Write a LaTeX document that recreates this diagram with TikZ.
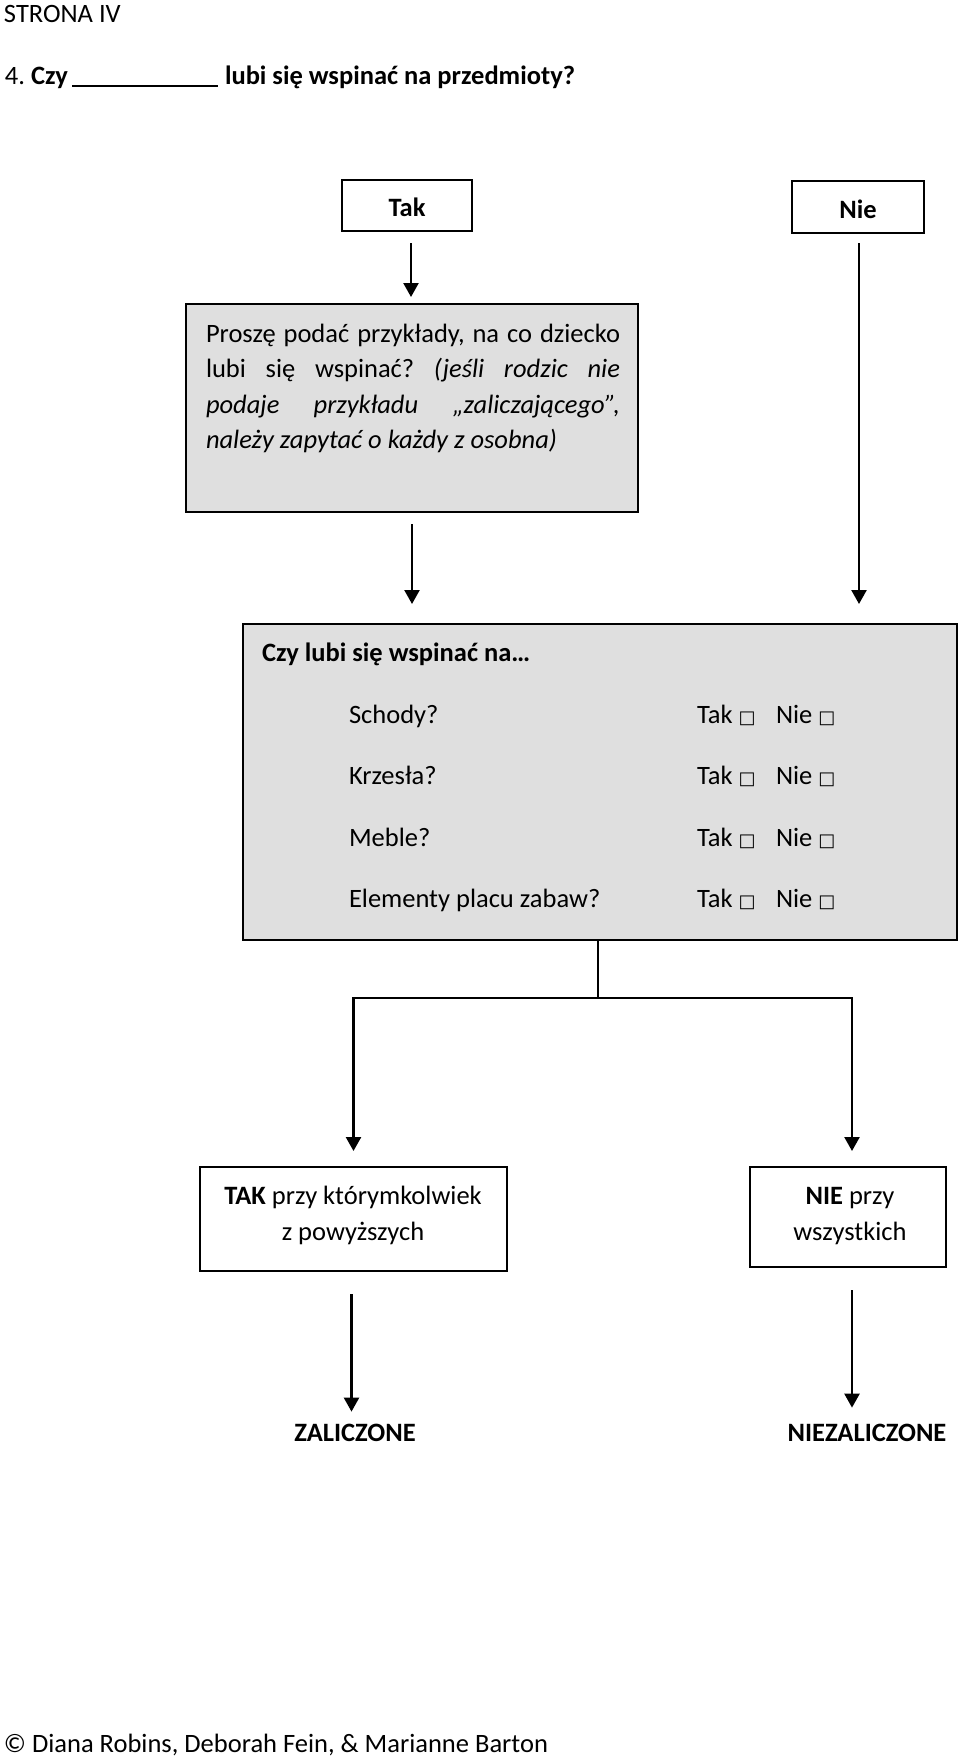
\documentclass[tikz,border=0pt]{standalone}
\usepackage{fontspec}
\setmainfont{Carlito}
\newfontfamily\symf{DejaVu Sans}
\usetikzlibrary{arrows.meta,calc}
\definecolor{boxgrey}{RGB}{223,223,223}
\newcommand{\cbx}{{\symf\fontsize{18}{18}\selectfont □}}
\frenchspacing
\begin{document}
\begin{tikzpicture}[x=1pt,y=-1pt,
  every node/.style={inner sep=0pt,outer sep=0pt,font=\fontsize{26.5}{32}\selectfont},
  box/.style={draw,line width=2pt,anchor=north west},
  gbox/.style={box,fill=boxgrey},
  arr/.style={line width=2.4pt,-{Triangle[width=15pt,length=14pt]}},
  ln/.style={line width=2.4pt,line join=miter}]
\useasboundingbox (0,0) rectangle (960,1762);
% header
\node[anchor=base west] (strona) at (4,22) {STRONA IV};
\node[anchor=base west] (q1) at (5,84) {4. \textbf{Czy}};
\coordinate (ul1) at (72,86);
\coordinate (ul2) at (218,86);
\draw[line width=2pt] (ul1) -- (ul2);
\node[anchor=base west] (q2) at (225,84) {\textbf{lubi się wspinać na przedmioty?}};
% top boxes
\node[box,minimum width=130pt,minimum height=51pt] (tak) at (342,180) {};
\node (takt) at ($(tak.center)+(0,2)$) {\textbf{Tak}};
\node[box,minimum width=132pt,minimum height=52pt] (nie) at (792,181) {};
\node (niet) at ($(nie.center)+(0,2)$) {\textbf{Nie}};
% grey box 1
\node[gbox,minimum width=452pt,minimum height=208pt] (box1) at (186,304) {};
\node[anchor=base west] (box1t) at (206,342) {\parbox[t]{414pt}{\fontsize{26.5}{35.5}\selectfont\hyphenpenalty=10000
Proszę podać przykłady, na co dziecko\linebreak
lubi się wspinać? \textit{(jeśli rodzic nie\linebreak
podaje przykładu „zaliczającego”,\linebreak
należy zapytać o każdy z osobna)}}};
% grey box 2
\node[gbox,minimum width=714pt,minimum height=316pt] (box2) at (243,624) {};
\node[anchor=base west] (hdr) at (262,661) {\textbf{Czy lubi się wspinać na…}};
\node[anchor=base west] (r1) at (349,723) {Schody?};
\node[anchor=base west] (r2) at (349,784) {Krzesła?};
\node[anchor=base west] (r3) at (349,846) {Meble?};
\node[anchor=base west] (r4) at (349,907) {Elementy placu zabaw?};
\node[anchor=base west] (t1) at (697,723) {Tak \cbx};
\node[anchor=base west] (t2) at (697,784) {Tak \cbx};
\node[anchor=base west] (t3) at (697,846) {Tak \cbx};
\node[anchor=base west] (t4) at (697,907) {Tak \cbx};
\node[anchor=base west] (n1) at (776,723) {Nie \cbx};
\node[anchor=base west] (n2) at (776,784) {Nie \cbx};
\node[anchor=base west] (n3) at (776,846) {Nie \cbx};
\node[anchor=base west] (n4) at (776,907) {Nie \cbx};
% lower boxes
\node[box,minimum width=307pt,minimum height=104pt] (takbox) at (200,1167) {};
\node[anchor=base] (tb1) at (353,1204) {\textbf{TAK} przy którymkolwiek};
\node[anchor=base] (tb2) at (353,1240) {z powyższych};
\node[box,minimum width=196pt,minimum height=100pt] (niebox) at (750,1167) {};
\node[anchor=base] (nb1) at (850,1204) {\textbf{NIE} przy};
\node[anchor=base] (nb2) at (850,1240) {wszystkich};
% results
\node[anchor=base] (zal) at (355,1441) {\textbf{ZALICZONE}};
\node[anchor=base] (nzal) at (867,1441) {\textbf{NIEZALICZONE}};
% footer
\node[anchor=base west] (copy) at (4,1752) {© Diana Robins, Deborah Fein, \& Marianne Barton};
% connectors
\draw[arr] ($(tak.south)+(4,12)$) -- ($(tak.south |- box1.north)+(4,-7)$);
\draw[arr] ($(box1.south)+(0,12)$) -- ($(box1.south |- box2.north)+(0,-20)$);
\draw[arr] ($(nie.south)+(1,10)$) -- ($(nie.south |- box2.north)+(1,-20)$);
\coordinate (j) at ($(box2.south)+(-2,58)$);
\draw[ln] (box2.south -| j) -- (j);
\draw[arr,line join=miter] (j) -| ($(takbox.north)+(0,-16)$);
\draw[arr,line join=miter] (j) -| ($(niebox.north)+(4,-16)$);
\draw[arr] ($(takbox.south)+(-2,23)$) -- ($(takbox.south |- zal.north)+(-2,-12)$);
\draw[arr] ($(niebox.south)+(4,23)$) -- ($(niebox.south |- nzal.north)+(4,-16)$);
\end{tikzpicture}
\end{document}
